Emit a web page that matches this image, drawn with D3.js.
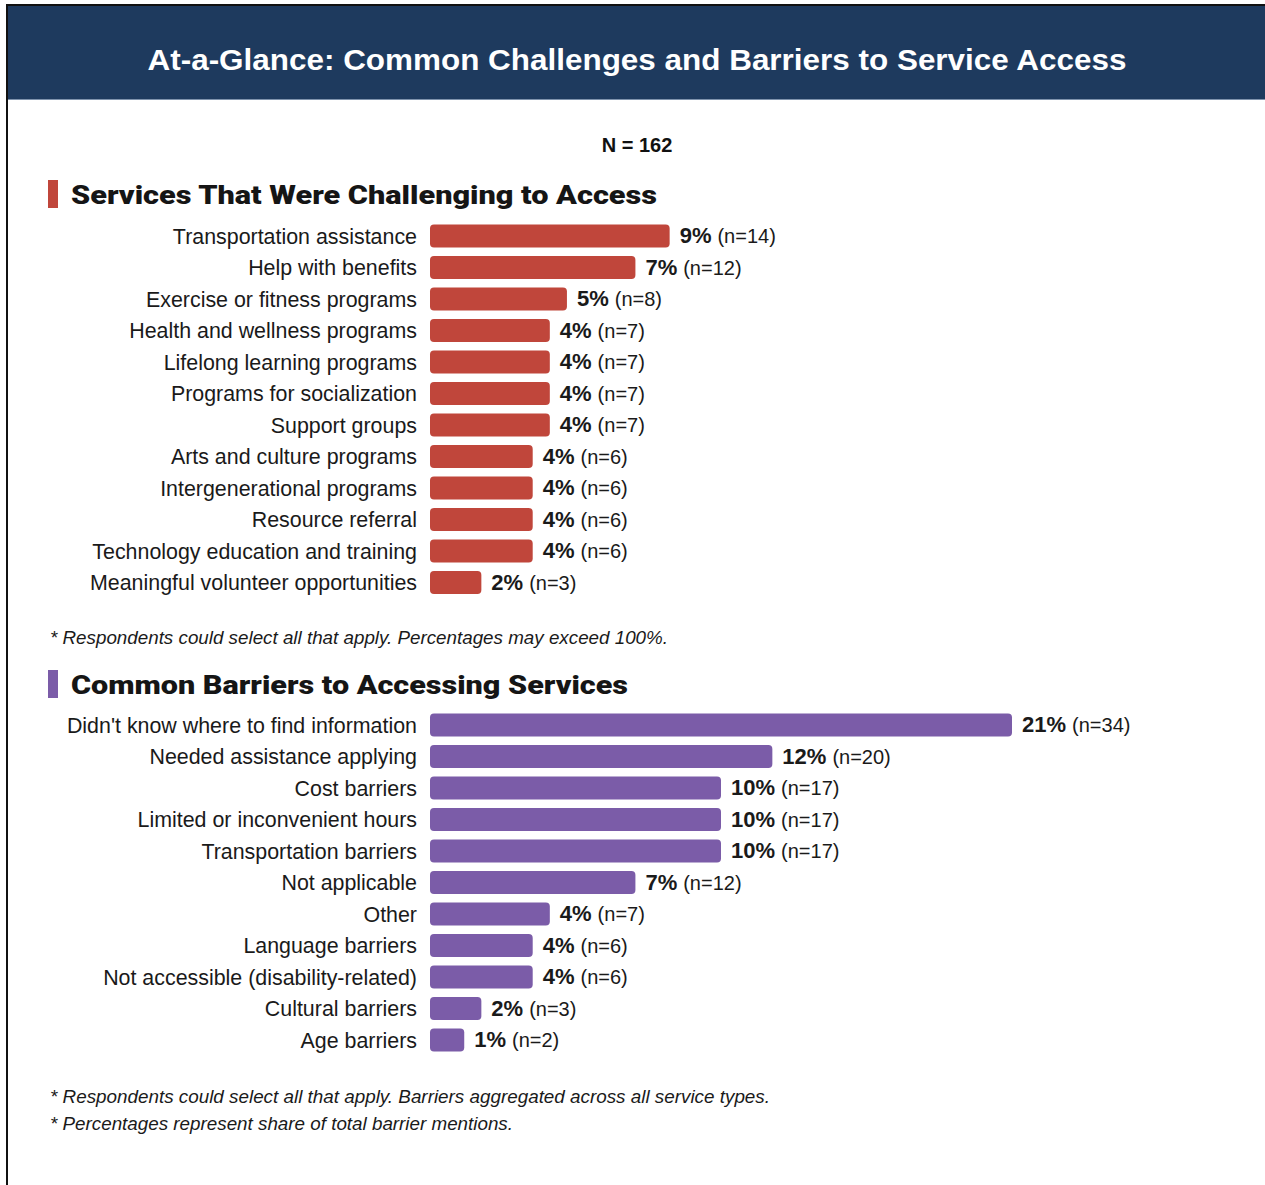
<!DOCTYPE html>
<html>
<head>
<meta charset="utf-8">
<script src="https://cdn.jsdelivr.net/npm/d3@7"></script>
<style>
  html, body { margin: 0; padding: 0; background: #ffffff; }
  svg { display: block; }
</style>
</head>
<body>
<svg id="chart" width="1265" height="1185"></svg>
<script>
// Services respondents found challenging to access
const serviceNames = [
  "Transportation assistance",
  "Help with benefits",
  "Exercise or fitness programs",
  "Health and wellness programs",
  "Lifelong learning programs",
  "Programs for socialization",
  "Support groups",
  "Arts and culture programs",
  "Intergenerational programs",
  "Resource referral",
  "Technology education and training",
  "Meaningful volunteer opportunities"
];
const serviceCounts = [14, 12, 8, 7, 7, 7, 7, 6, 6, 6, 6, 3];
const servicePcts   = ["9%", "7%", "5%", "4%", "4%", "4%", "4%", "4%", "4%", "4%", "4%", "2%"];

// Barriers respondents reported
const barrierNames = [
  "Didn't know where to find information",
  "Needed assistance applying",
  "Cost barriers",
  "Limited or inconvenient hours",
  "Transportation barriers",
  "Not applicable",
  "Other",
  "Language barriers",
  "Not accessible (disability-related)",
  "Cultural barriers",
  "Age barriers"
];
const barrierCounts = [34, 20, 17, 17, 17, 12, 7, 6, 6, 3, 2];
const barrierPcts   = ["21%", "12%", "10%", "10%", "10%", "7%", "4%", "4%", "4%", "2%", "1%"];

const totalN = 162;

const svg = d3.select("#chart");
const FONT = "'Liberation Sans', Arial, Helvetica, sans-serif";
const NARROW = "'Liberation Sans Narrow', 'Liberation Sans', Arial, sans-serif";
const HEAVY = "'Roboto', 'DejaVu Sans', sans-serif";

// card frame
svg.append("rect")
  .attr("x", 7).attr("y", 5).attr("width", 1270).attr("height", 1200)
  .attr("fill", "#ffffff").attr("stroke", "#111111").attr("stroke-width", 2);

// header band
svg.append("rect")
  .attr("x", 8).attr("y", 6).attr("width", 1260).attr("height", 93)
  .attr("fill", "#1e3a5e");
svg.append("line")
  .attr("x1", 8).attr("x2", 1265).attr("y1", 99.5).attr("y2", 99.5)
  .attr("stroke", "#7f93ad").attr("stroke-width", 1);

svg.append("text")
  .attr("x", 637).attr("y", 70)
  .attr("text-anchor", "middle")
  .attr("fill", "#ffffff")
  .attr("font-family", FONT).attr("font-weight", "bold").attr("font-size", 29)
  .attr("textLength", 979).attr("lengthAdjust", "spacingAndGlyphs")
  .text("At-a-Glance: Common Challenges and Barriers to Service Access");

svg.append("text")
  .attr("x", 637).attr("y", 152)
  .attr("text-anchor", "middle")
  .attr("fill", "#111111")
  .attr("font-family", FONT).attr("font-weight", "bold").attr("font-size", 20)
  .text(`N = ${totalN}`);

// shared horizontal scale: bar length proportional to respondent count
const barX0 = 430;
const x = d3.scaleLinear()
  .domain([0, d3.max(barrierCounts.concat(serviceCounts))])
  .range([0, 582]);

function section(opts) {
  const g = svg.append("g");

  g.append("rect")
    .attr("x", 48).attr("y", opts.headY - 15)
    .attr("width", 10).attr("height", 28)
    .attr("fill", opts.color);

  g.append("text")
    .attr("x", 71).attr("y", opts.headY + 9)
    .attr("fill", "#151515")
    .attr("font-family", HEAVY).attr("font-weight", 900).attr("font-size", 25)
    .attr("textLength", opts.headLen).attr("lengthAdjust", "spacingAndGlyphs")
    .text(opts.title);

  const y = d3.scaleBand()
    .domain(opts.names)
    .range([opts.firstY - 15.75, opts.firstY - 15.75 + 31.5 * opts.names.length])
    .paddingInner(0.27).paddingOuter(0.135);

  const rows = g.selectAll("g.row")
    .data(opts.names.map((n, i) => ({ name: n, count: opts.counts[i], pct: opts.pcts[i] })))
    .join("g")
    .attr("class", "row")
    .attr("transform", d => `translate(0,${y(d.name)})`);

  rows.append("rect")
    .attr("x", barX0).attr("y", 0)
    .attr("width", d => x(d.count))
    .attr("height", y.bandwidth())
    .attr("rx", 4).attr("ry", 4)
    .attr("fill", opts.color);

  rows.append("text")
    .attr("x", 417).attr("y", y.bandwidth() / 2)
    .attr("dy", "0.36em")
    .attr("text-anchor", "end")
    .attr("fill", "#1a1a1a")
    .attr("font-family", FONT).attr("font-size", 21.4)
    .text(d => d.name);

  const val = rows.append("text")
    .attr("x", d => barX0 + x(d.count) + 10)
    .attr("y", y.bandwidth() / 2)
    .attr("dy", "0.36em")
    .attr("fill", "#1a1a1a")
    .attr("font-family", FONT).attr("font-size", 20);
  val.append("tspan").attr("font-weight", "bold").attr("font-size", 22).text(d => d.pct);
  val.append("tspan").attr("dx", 6).text(d => `(n=${d.count})`);

  opts.notes.forEach((t, i) => {
    g.append("text")
      .attr("x", 50).attr("y", opts.noteY + i * 27)
      .attr("fill", "#1a1a1a")
      .attr("font-family", NARROW).attr("font-style", "italic").attr("font-size", 18)
      .attr("textLength", opts.noteLens[i]).attr("lengthAdjust", "spacingAndGlyphs")
      .text(t);
  });
}

section({
  title: "Services That Were Challenging to Access",
  headY: 195, headLen: 586,
  color: "#c0463b",
  names: serviceNames, counts: serviceCounts, pcts: servicePcts,
  firstY: 236,
  notes: ["* Respondents could select all that apply. Percentages may exceed 100%."],
  noteLens: [618],
  noteY: 644
});

section({
  title: "Common Barriers to Accessing Services",
  headY: 685, headLen: 557,
  color: "#7b5ca8",
  names: barrierNames, counts: barrierCounts, pcts: barrierPcts,
  firstY: 725,
  notes: [
    "* Respondents could select all that apply. Barriers aggregated across all service types.",
    "* Percentages represent share of total barrier mentions."
  ],
  noteLens: [720, 463],
  noteY: 1103
});
</script>
</body>
</html>
